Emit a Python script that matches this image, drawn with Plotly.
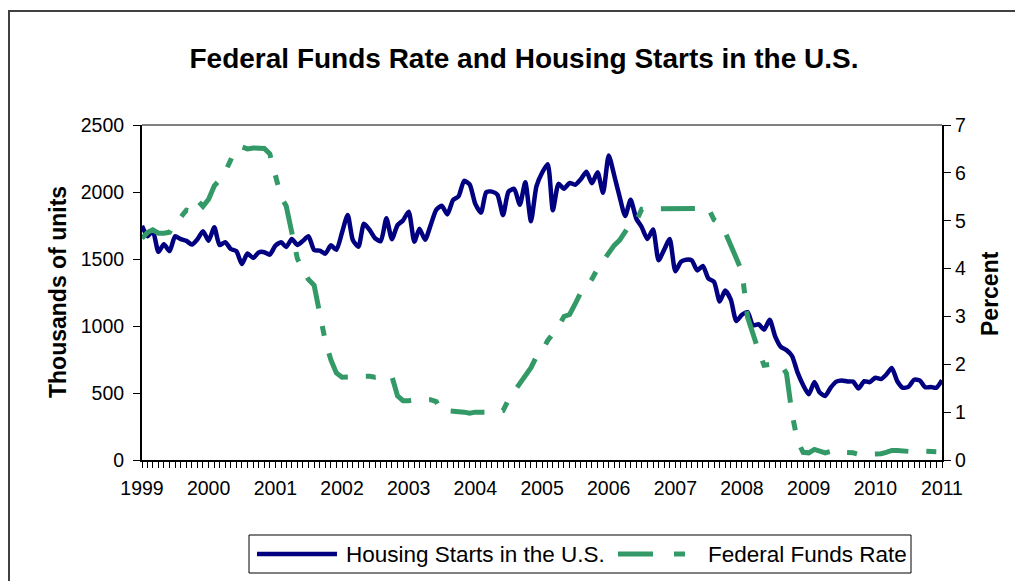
"""
Federal Funds Rate and Housing Starts in the U.S. (1999-2011)
"""

import pandas as pd
import plotly.graph_objects as go

# monthly observations, Jan 1999 .. Jan 2011
months = pd.date_range("1999-01-01", "2011-01-01", freq="MS")

# housing starts, thousands of units (SAAR)
housing_starts = [
    1748, 1670, 1710, 1553, 1611, 1559, 1669, 1648, 1635, 1608, 1648, 1708,  # 1999
    1636, 1737, 1604, 1626, 1575, 1559, 1463, 1541, 1507, 1549, 1551, 1532,  # 2000
    1600, 1625, 1590, 1649, 1605, 1636, 1670, 1567, 1562, 1540, 1602, 1568,  # 2001
    1698, 1829, 1642, 1592, 1764, 1717, 1655, 1633, 1804, 1648, 1753, 1788,  # 2002
    1853, 1629, 1726, 1643, 1751, 1867, 1897, 1833, 1939, 1967, 2083, 2057,  # 2003
    1911, 1846, 1998, 2003, 1981, 1828, 2002, 2024, 1905, 2072, 1782, 2042,  # 2004
    2144, 2207, 1864, 2061, 2025, 2068, 2054, 2095, 2151, 2065, 2147, 1994,  # 2005
    2273, 2119, 1969, 1821, 1942, 1802, 1737, 1650, 1720, 1491, 1570, 1649,  # 2006
    1409, 1480, 1495, 1490, 1415, 1448, 1354, 1330, 1183, 1264, 1197, 1037,  # 2007
    1084, 1103, 1005, 1013, 973, 1046, 923, 844, 820, 777, 652, 560,  # 2008
    490, 582, 505, 478, 540, 585, 594, 586, 585, 534, 588, 581,  # 2009
    614, 604, 636, 687, 588, 539, 546, 599, 594, 543, 545, 539,  # 2010
    596,  # 2011
]

# effective federal funds rate, percent
fed_funds = [
    4.63, 4.76, 4.81, 4.74, 4.74, 4.76, 4.99, 5.07, 5.22, 5.20, 5.42, 5.30,  # 1999
    5.45, 5.73, 5.85, 6.02, 6.27, 6.53, 6.54, 6.50, 6.52, 6.51, 6.51, 6.40,  # 2000
    5.98, 5.49, 5.31, 4.80, 4.21, 3.97, 3.77, 3.65, 3.07, 2.49, 2.09, 1.82,  # 2001
    1.73, 1.74, 1.73, 1.75, 1.75, 1.75, 1.73, 1.74, 1.75, 1.75, 1.34, 1.24,  # 2002
    1.24, 1.26, 1.25, 1.26, 1.26, 1.22, 1.01, 1.03, 1.01, 1.01, 1.00, 0.98,  # 2003
    1.00, 1.01, 1.00, 1.00, 1.00, 1.03, 1.26, 1.43, 1.61, 1.76, 1.93, 2.16,  # 2004
    2.28, 2.50, 2.63, 2.79, 3.00, 3.04, 3.26, 3.50, 3.62, 3.78, 4.00, 4.16,  # 2005
    4.29, 4.49, 4.59, 4.79, 4.94, 4.99, 5.24, 5.25, 5.25, 5.25, 5.25, 5.24,  # 2006
    5.25, 5.26, 5.26, 5.25, 5.25, 5.25, 5.26, 5.02, 4.94, 4.76, 4.49, 4.24,  # 2007
    3.94, 2.98, 2.61, 2.28, 1.98, 2.00, 2.01, 2.00, 1.81, 0.97, 0.39, 0.16,  # 2008
    0.15, 0.22, 0.18, 0.15, 0.18, 0.21, 0.16, 0.16, 0.15, 0.12, 0.12, 0.12,  # 2009
    0.11, 0.13, 0.16, 0.20, 0.20, 0.18, 0.18, 0.19, 0.19, 0.19, 0.19, 0.18,  # 2010
    0.17,  # 2011
]

year_labels = [str(y) for y in range(1999, 2012)]
left_ticks = [0, 500, 1000, 1500, 2000, 2500]
right_ticks = [0, 1, 2, 3, 4, 5, 6, 7]

NAVY = "#000080"
GREEN = "#339966"
FONT = "Liberation Sans, Arial, sans-serif"
FFR_DASH = "34px,18px,10px,18px"

# plot area in screen pixels (page has an 8px body margin)
OFF = 8
L, R, T, B = 142, 942, 125, 460


def px_x(p):
    return (p - L) / (R - L)


def px_y(p):
    return (B - p) / (B - T)


fig = go.Figure()

fig.add_trace(go.Scatter(
    x=months, y=housing_starts, name="Housing Starts in the U.S.",
    mode="lines", line=dict(color=NAVY, width=4.5, shape="spline", smoothing=0.6),
))
fig.add_trace(go.Scatter(
    x=months, y=fed_funds, name="Federal Funds Rate", yaxis="y2",
    mode="lines", line=dict(color=GREEN, width=5, dash=FFR_DASH),
))

# hand-drawn legend box so the sample lines can be as long as in the original
LEG_Y = 554
legend_shapes = [
    dict(type="rect", xref="paper", yref="paper",
         x0=px_x(249), x1=px_x(911), y0=px_y(535), y1=px_y(573),
         line=dict(color="black", width=1)),
    dict(type="line", xref="paper", yref="paper",
         x0=px_x(257), x1=px_x(337), y0=px_y(LEG_Y), y1=px_y(LEG_Y),
         line=dict(color=NAVY, width=4.5)),
    dict(type="line", xref="paper", yref="paper",
         x0=px_x(618), x1=px_x(653), y0=px_y(LEG_Y), y1=px_y(LEG_Y),
         line=dict(color=GREEN, width=5)),
    dict(type="line", xref="paper", yref="paper",
         x0=px_x(674), x1=px_x(685), y0=px_y(LEG_Y), y1=px_y(LEG_Y),
         line=dict(color=GREEN, width=5)),
]
legend_labels = [
    dict(text="Housing Starts in the U.S.", x=px_x(344), y=px_y(LEG_Y),
         xref="paper", yref="paper", xanchor="left", yanchor="middle",
         showarrow=False, font=dict(size=22.5)),
    dict(text="Federal Funds Rate", x=px_x(706), y=px_y(LEG_Y),
         xref="paper", yref="paper", xanchor="left", yanchor="middle",
         showarrow=False, font=dict(size=22.5)),
]

fig.update_layout(
    width=1023, height=581,
    margin=dict(l=L - OFF, r=1023 - (R - OFF), t=T - OFF, b=581 - (B - OFF)),
    paper_bgcolor="white", plot_bgcolor="white",
    font=dict(family=FONT, size=19.5, color="black"),
    title=dict(
        text="<b>Federal Funds Rate and Housing Starts in the U.S.</b>",
        x=(524 - OFF) / 1023, xanchor="center", y=1 - (58 - OFF) / 581, yanchor="middle",
        font=dict(size=28),
    ),
    xaxis=dict(
        type="date", range=["1999-01-01", "2011-01-01"],
        tickvals=[f"{y}-01-01" for y in year_labels], ticktext=year_labels,
        ticks="outside", ticklen=6, tickcolor="black", tickwidth=1,
        ticklabelstandoff=4,
        minor=dict(dtick="M1", tick0="1999-01-01", ticks="outside", ticklen=6,
                   tickcolor="black", tickwidth=1, showgrid=False),
        showline=True, linecolor="black", linewidth=2,
        showgrid=False, zeroline=False,
    ),
    yaxis=dict(
        range=[0, 2500], tickvals=left_ticks,
        ticks="outside", ticklen=7, tickcolor="black", ticklabelstandoff=5,
        showline=True, linecolor="black", linewidth=2,
        showgrid=False, zeroline=False,
    ),
    yaxis2=dict(
        range=[0, 7], tickvals=right_ticks, overlaying="y", side="right",
        ticks="outside", ticklen=7, tickcolor="black",
        showline=True, linecolor="black", linewidth=2,
        showgrid=False, zeroline=False,
    ),
    showlegend=False,
    annotations=[
        dict(text="<b>Thousands of units</b>", textangle=-90, x=px_x(58), y=px_y(292),
             xref="paper", yref="paper", xanchor="center", yanchor="middle",
             showarrow=False, font=dict(size=23)),
        dict(text="<b>Percent</b>", textangle=-90, x=px_x(990), y=px_y(294),
             xref="paper", yref="paper", xanchor="center", yanchor="middle",
             showarrow=False, font=dict(size=23)),
    ] + legend_labels,
    shapes=[
        # gray top border of the plot area
        dict(type="line", xref="paper", yref="paper", x0=0, x1=1, y0=1, y1=1,
             line=dict(color="#808080", width=2), layer="below"),
        # outer chart frame
        dict(type="rect", xref="paper", yref="paper",
             x0=px_x(9), x1=px_x(1040), y0=px_y(11), y1=px_y(620),
             line=dict(color="#404040", width=2), layer="below"),
    ] + legend_shapes,
)

fig.write_html("out.html")
